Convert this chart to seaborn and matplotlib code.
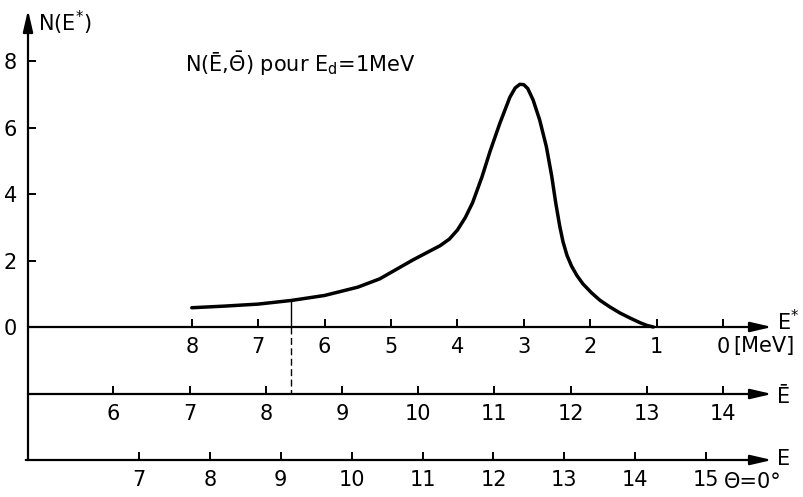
import numpy as np
import matplotlib
matplotlib.use("Agg")
import matplotlib.pyplot as plt
import seaborn as sns
import pandas as pd

# ---- data ----
e_star = [8.0, 7.5, 7.0, 6.5, 6.0, 5.5, 5.17, 4.67, 4.26, 4.12, 4.00, 3.88, 3.77, 3.63,
          3.51, 3.36, 3.21, 3.13, 3.06, 3.00, 2.94, 2.86, 2.76, 2.66, 2.58, 2.52, 2.46,
          2.41, 2.35, 2.28, 2.20, 2.11, 1.98, 1.85, 1.70, 1.55, 1.40, 1.25, 1.15, 1.05]
n_val = [0.58, 0.63, 0.69, 0.80, 0.95, 1.20, 1.45, 2.02, 2.45, 2.65, 2.92, 3.30, 3.75, 4.52,
         5.28, 6.14, 6.92, 7.20, 7.31, 7.30, 7.18, 6.84, 6.23, 5.43, 4.55, 3.75, 3.05,
         2.57, 2.16, 1.83, 1.55, 1.30, 1.03, 0.80, 0.60, 0.42, 0.27, 0.13, 0.05, 0.0]
y_ticks = [0, 2, 4, 6, 8]
estar_ticks = [0, 1, 2, 3, 4, 5, 6, 7, 8]
ebar_ticks = [6, 7, 8, 9, 10, 11, 12, 13, 14]
e_ticks = [7, 8, 9, 10, 11, 12, 13, 14, 15]
marker_estar = 6.5

df = pd.DataFrame({"Estar": e_star, "N": n_val})

sns.set_style("white")
FONT = ["DejaVu Sans"]
plt.rcParams["font.family"] = FONT
plt.rcParams["mathtext.fontset"] = "dejavusans"
plt.rcParams["text.color"] = "black"

W, H = 804, 497
fig = plt.figure(figsize=(W / 100, H / 100), dpi=100)
L, R, T, B = 28, 772, 10, 460
ax = fig.add_axes([L / W, 1 - B / H, (R - L) / W, (B - T) / H])

# limits (E* axis: 66.4 px/MeV, 0 at x=723; N: 33.2 px/unit, 0 at y=327)
ax.set_xlim((723 - L) / 66.4, (723 - R) / 66.4)
ax.set_ylim((327 - B) / 33.2, (327 - T) / 33.2)
ebar_level = (327 - 394) / 33.2

sns.lineplot(data=df, x="Estar", y="N", ax=ax, color="black", lw=2.5, sort=False,
             solid_joinstyle="round", solid_capstyle="round")
n_mark = float(np.interp(marker_estar, e_star[::-1], n_val[::-1]))
ax.plot([marker_estar, marker_estar], [n_mark, 0], color="black", lw=1.0)
ax.plot([marker_estar, marker_estar], [0, ebar_level], color="black", lw=1.0,
        dashes=(5, 2.5))

ax.set_xlabel("")
ax.set_ylabel("")
for s in ax.spines.values():
    s.set_visible(False)

tick_font = dict(family=FONT, size=15)

# twin axes for Ebar and E
ax2 = ax.twiny()
ax3 = ax.twiny()
ax2.set_xlim(14 - (723 - L) / 76.2, 14 + (R - 723) / 76.2)
ax3.set_xlim(7 - (139 - L) / 70.9, 7 + (R - 139) / 70.9)

for a, ticks, level in [(ax, estar_ticks, 0.0), (ax2, ebar_ticks, ebar_level),
                        (ax3, e_ticks, None)]:
    for s in a.spines.values():
        s.set_visible(False)
    a.xaxis.set_ticks_position("bottom")
    a.xaxis.set_label_position("bottom")
    if level is not None:
        a.spines["bottom"].set_position(("data", level))
    a.set_xticks(ticks)
    a.set_xticklabels([str(t) for t in ticks], fontdict=tick_font)
    a.tick_params(axis="x", direction="in", length=6, width=1.4, pad=7, colors="black")
    a.set_xlabel("")

ax.set_yticks(y_ticks)
ax.set_yticklabels([str(t) for t in y_ticks], fontdict=tick_font)
ax.tick_params(axis="y", direction="in", length=6, width=1.4, pad=8, left=True, colors="black")

# axis lines with arrowheads
arrow = dict(arrowstyle="-|>,head_length=1.3,head_width=0.3", lw=1.6, color="black",
             shrinkA=0, shrinkB=0)
ax.annotate("", xy=(1, 0), xytext=(0, 0), xycoords=("axes fraction", "data"),
            textcoords=("axes fraction", "data"), arrowprops=arrow, annotation_clip=False)
ax.annotate("", xy=(1, ebar_level), xytext=(0, ebar_level), xycoords=("axes fraction", "data"),
            textcoords=("axes fraction", "data"), arrowprops=arrow, annotation_clip=False)
ax.annotate("", xy=(1, 0), xytext=(-0.003, 0), xycoords="axes fraction",
            arrowprops=arrow, annotation_clip=False)
ax.annotate("", xy=(0, 1), xytext=(0, 0), xycoords="axes fraction",
            arrowprops=arrow, annotation_clip=False)


def fx(px):
    return (px - L) / (R - L)


def fy(py):
    return (B - py) / (B - T)


txt = dict(family=FONT, size=15, transform=ax.transAxes, color="black",
           va="center", clip_on=False)
ax.text(fx(38), fy(23), "N(E$^{*}$)", ha="left", **txt)
ax.text(fx(185), fy(64), "N(Ē,$\\bar{\\Theta}$) pour E$_{\\rm d}$=1MeV", ha="left", **txt)
ax.text(fx(777), fy(322), "E$^{*}$", ha="left", **txt)
ax.text(fx(733), fy(346), "[MeV]", ha="left", **txt)
ax.text(fx(777), fy(397), "Ē", ha="left", **txt)
ax.text(fx(777), fy(459), "E", ha="left", **txt)
ax.text(fx(724), fy(482), "Θ=0°", ha="left", **txt)

fig.savefig("out.png", dpi=100)
